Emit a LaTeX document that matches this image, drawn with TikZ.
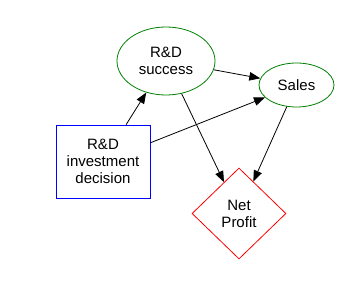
\documentclass[tikz,border=0pt]{standalone}
\usepackage{fontspec}
\setmainfont{Liberation Sans}
\usetikzlibrary{shapes.geometric,arrows.meta}
\definecolor{dgreen}{RGB}{0,128,0}
\begin{document}
\begin{tikzpicture}[x=1pt,y=-1pt,
  every node/.style={font=\fontsize{15}{17}\selectfont, align=center, inner sep=0pt, line width=0.8pt},
  oval/.style={ellipse, draw=dgreen},
  decbox/.style={rectangle, draw=blue},
  valnode/.style={diamond, draw=red},
  link/.style={-{Triangle[length=11pt,width=8.5pt]}, line width=0.8pt}]
\useasboundingbox[fill=white] (0,0) rectangle (359,283);
\node[oval, minimum width=98pt, minimum height=68pt] (rds) at (166,61) {R\&D\\success};
\node[oval, minimum width=75pt, minimum height=44pt] (sales) at (296.5,85) {Sales};
\node[decbox, minimum width=94pt, minimum height=73pt] (inv) at (103,161.5) {R\&D\\investment\\decision};
\node[valnode, minimum width=94pt, minimum height=91pt] (np) at (239,213.5) {Net\\Profit};
\draw[link] (inv) -- (rds);
\draw[link] (inv) -- (sales);
\draw[link] (rds) -- (sales);
\draw[link] (rds) -- (np);
\draw[link] (sales) -- (np);
\end{tikzpicture}
\end{document}
